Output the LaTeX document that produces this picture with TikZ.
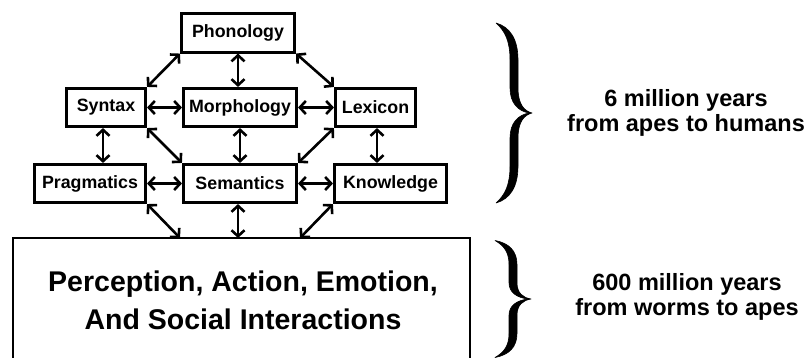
\documentclass[tikz,border=0pt]{standalone}
\usepackage{fontspec}
\setmainfont{Liberation Sans}
\usetikzlibrary{arrows.meta,calc}
\begin{document}
\begin{tikzpicture}[x=1pt,y=-1pt,
  box/.style={draw,line width=2.6pt,inner sep=0pt,minimum height=38.5pt,font=\fontsize{17.8}{20}\selectfont\bfseries},
  link/.style={line width=2.6pt,{Straight Barb[length=6pt,width=13pt]}-{Straight Barb[length=6pt,width=13pt]}},
  bracefill/.style={fill=black,draw=black,line width=0.6pt,line join=round}]
\clip (0,0) rectangle (810,358);
\fill[white] (0,0) rectangle (810,358);
% boxes
\node[box,minimum width=113.5pt] (phon) at (238,33) {Phonology};
\node[box,minimum width=79.5pt] (syn) at (106,107.5) {Syntax};
\node[box,minimum width=113.5pt] (morph) at (240,107.5) {Morphology};
\node[box,minimum width=80.5pt] (lex) at (375.5,107.5) {Lexicon};
\node[box,minimum width=111.5pt] (prag) at (90,183.5) {Pragmatics};
\node[box,minimum width=113.5pt] (sem) at (240,183.5) {Semantics};
\node[box,minimum width=112.5pt] (know) at (390.5,183.5) {Knowledge};
\draw[line width=2.6pt] (13,238) rectangle (470,370);
\node[font=\fontsize{28.5}{38}\selectfont\bfseries,align=center] (big) at (243,300)
  {Perception, Action, Emotion,\\And Social Interactions};
\coordinate (b1) at (180,238);
\coordinate (b2) at (238,238);
\coordinate (b3) at (300,238);
% connectors
\draw[link] (phon.south west) -- (syn.north east);
\draw[link] (phon.south) -- (phon.south |- morph.north);
\draw[link] (phon.south east) -- (lex.north west);
\draw[link] (syn.east) -- (morph.west);
\draw[link] (morph.east) -- (lex.west);
\draw[link] ([xshift=-3pt]syn.south) -- ([xshift=-3pt]syn.south |- prag.north);
\draw[link] (syn.south east) -- (sem.north west);
\draw[link] (morph.south) -- (sem.north);
\draw[link] (lex.south west) -- (sem.north east);
\draw[link] ([xshift=1.5pt]lex.south) -- ([xshift=1.5pt]lex.south |- know.north);
\draw[link] (prag.east) -- (sem.west);
\draw[link] (sem.east) -- (know.west);
\draw[link] (prag.south east) -- (b1);
\draw[link] ([xshift=-2pt]sem.south) -- (b2);
\draw[link] (know.south west) -- (b3);
% braces
\foreach \cx/\cy/\s in {532/113/1, 531/299/0.65}{
  \begin{scope}[shift={(\cx,\cy)},yscale=\s]
  \fill[bracefill] (-36,-90) .. controls (-22,-86) and (-14,-74) .. (-14,-53) -- (-14,-25)
     .. controls (-14,-9) and (-8,-2) .. (0,0)
     .. controls (-8,2) and (-14,9) .. (-14,25) -- (-14,53)
     .. controls (-14,74) and (-22,86) .. (-36,90)
     .. controls (-27,82) and (-22,72) .. (-22,53) -- (-22,25)
     .. controls (-22,10) and (-14,2) .. (-3,0)
     .. controls (-14,-2) and (-22,-10) .. (-22,-25) -- (-22,-53)
     .. controls (-22,-72) and (-27,-82) .. (-36,-90) -- cycle;
  \end{scope}
}
\node[font=\fontsize{23.5}{24.5}\selectfont\bfseries,align=center] (t1) at (686,113)
  {6 million years\\from apes to humans};
\node[font=\fontsize{23.5}{24.5}\selectfont\bfseries,align=center] (t2) at (687,297)
  {600 million years\\from worms to apes};
\end{tikzpicture}
\end{document}
